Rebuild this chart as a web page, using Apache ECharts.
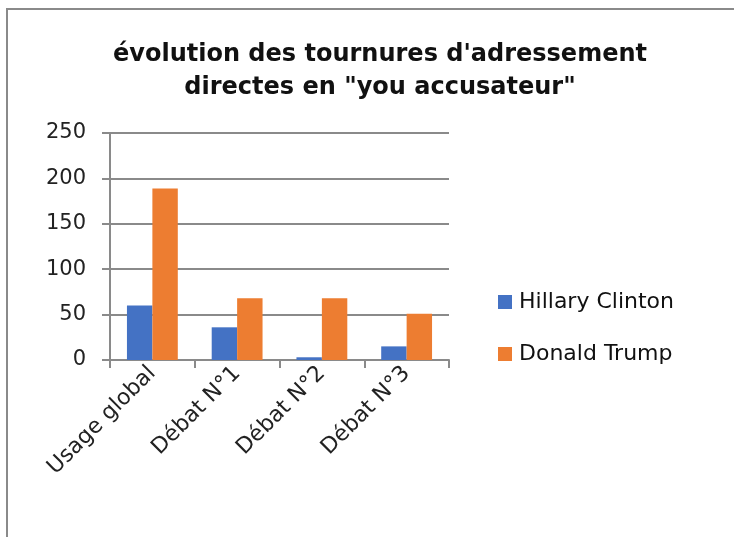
<!DOCTYPE html>
<html>
<head>
<meta charset="utf-8">
<script src="https://cdn.jsdelivr.net/npm/echarts@6/dist/echarts.min.js"></script>
<style>
html, body { margin: 0; padding: 0; background: #fff; }
#chart { width: 734px; height: 537px; }
</style>
</head>
<body>
<div id="chart"></div>
<script>
var categories = ['Usage global', 'Débat N°1', 'Débat N°2', 'Débat N°3'];
var clinton = [60, 36, 3, 15];
var trump = [189, 68, 68, 51];
var yTicks = { min: 0, max: 250, interval: 50 };

var font = 'DejaVu Sans';
var myChart = echarts.init(document.getElementById('chart'));

var option = {
    animation: false,
    textStyle: { fontFamily: font },
    title: {
        text: 'évolution des tournures d\'adressement\ndirectes en "you accusateur"',
        left: 375,
        textAlign: 'center',
        top: 33,
        textStyle: { fontSize: 24, fontWeight: 'bold', color: '#111', lineHeight: 33, fontFamily: font }
    },
    graphic: [{
        type: 'rect',
        shape: { x: 7, y: 9, width: 900, height: 700 },
        style: { fill: 'none', stroke: '#8a8a8a', lineWidth: 2 }
    }],
    legend: {
        orient: 'vertical',
        left: 493,
        top: 286,
        itemWidth: 14,
        itemHeight: 14,
        itemGap: 30,
        icon: 'rect',
        textStyle: { fontSize: 22, color: '#111', fontFamily: font, padding: [0, 0, 0, 2] },
        data: ['Hillary Clinton', 'Donald Trump']
    },
    grid: { left: 110, right: 285, top: 133, bottom: 177 },
    xAxis: {
        type: 'category',
        data: categories,
        axisLine: { lineStyle: { color: '#8a8a8a', width: 2 } },
        axisTick: { show: true, length: 8, lineStyle: { color: '#8a8a8a', width: 2 } },
        axisLabel: { rotate: 45, fontSize: 22, color: '#222', margin: 10, fontFamily: font }
    },
    yAxis: {
        type: 'value',
        min: yTicks.min,
        max: yTicks.max,
        interval: yTicks.interval,
        axisLine: { show: true, lineStyle: { color: '#8a8a8a', width: 2 } },
        axisTick: { show: true, length: 8, lineStyle: { color: '#8a8a8a', width: 2 } },
        splitLine: { lineStyle: { color: '#8a8a8a', width: 2 } },
        axisLabel: { fontSize: 21, color: '#222', margin: 24, fontFamily: font }
    },
    series: [
        {
            name: 'Hillary Clinton',
            type: 'bar',
            data: clinton,
            barGap: '0%',
            barCategoryGap: '40%',
            itemStyle: { color: '#4472c4' }
        },
        {
            name: 'Donald Trump',
            type: 'bar',
            data: trump,
            itemStyle: { color: '#ed7d31' }
        }
    ]
};

myChart.setOption(option);
</script>
</body>
</html>
